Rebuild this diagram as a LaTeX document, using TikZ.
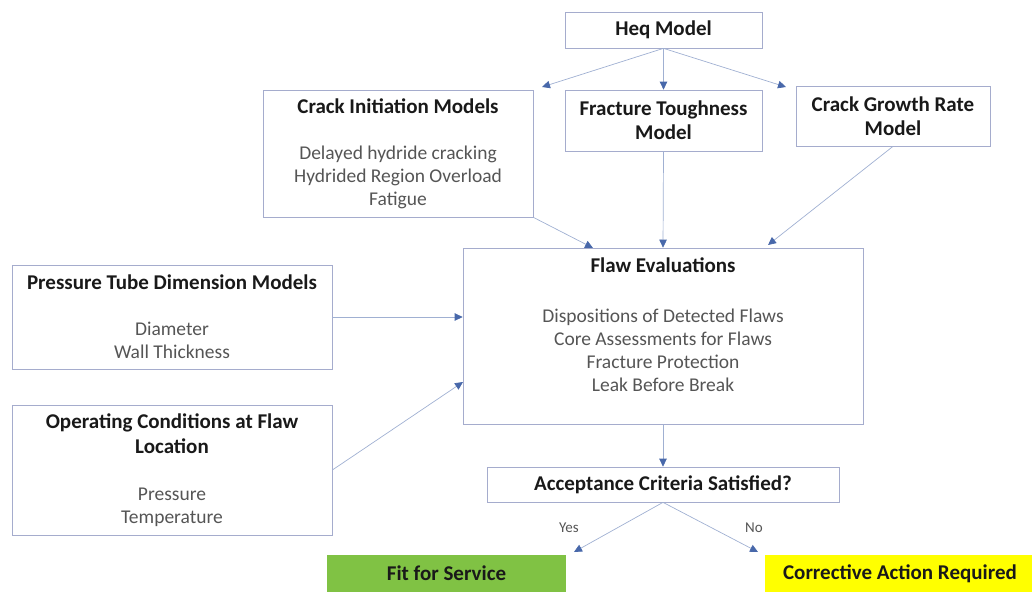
\documentclass[tikz,border=0pt]{standalone}
\usepackage{fontspec}
\setmainfont{Carlito}
\usetikzlibrary{arrows.meta,positioning}

\definecolor{boxline}{RGB}{165,172,205}
\definecolor{arrline}{RGB}{160,176,210}
\definecolor{tipblue}{RGB}{72,104,170}
\definecolor{bodygray}{RGB}{85,85,85}
\definecolor{titleblack}{RGB}{25,25,25}
\definecolor{fitgreen}{RGB}{128,194,68}
\definecolor{actyellow}{RGB}{255,255,0}

\newcommand{\boxtitle}[1]{\textcolor{titleblack}{\fontsize{21}{23}\selectfont\bfseries #1}}

\tikzset{
  box/.style={draw=boxline, line width=0.7pt, fill=white, align=center,
    text=bodygray, inner sep=0pt},
  outcome/.style={inner sep=0pt, align=center, text=titleblack,
    font=\fontsize{21}{23}\selectfont\bfseries},
  flow/.style={draw=arrline, line width=0.7pt,
    -{Triangle[length=8pt,width=7.5pt,color=tipblue]}},
  answer/.style={text=bodygray, font=\fontsize{15}{17}\selectfont}
}

\begin{document}
\begin{tikzpicture}[x=1pt,y=-1pt,font=\fontsize{19.5}{23}\selectfont]
    \useasboundingbox (0,0) rectangle (1032,592);

    % models feeding the evaluation
    \node[box, minimum width=197, minimum height=36] (heq) at (663.5,30) {\boxtitle{Heq Model}};
    \node[box, minimum width=270, minimum height=127] (ci) at (398,153.5)
      {\boxtitle{Crack Initiation Models}\\[23pt]Delayed hydride cracking\\Hydrided Region Overload\\Fatigue};
    \node[box, minimum width=197, minimum height=61] (ft) at (663.5,120.5)
      {\boxtitle{Fracture Toughness}\\[1pt]\boxtitle{Model}};
    \node[box, minimum width=194, minimum height=60] (cg) at (893,116)
      {\boxtitle{Crack Growth Rate}\\[1pt]\boxtitle{Model}};
    \node[box, minimum width=320, minimum height=104] (pt) at (172,317)
      {\boxtitle{Pressure Tube Dimension Models}\\[23pt]Diameter\\Wall Thickness};
    \node[box, minimum width=320, minimum height=130] (oc) at (172,470)
      {\boxtitle{Operating Conditions at Flaw}\\[2pt]\boxtitle{Location}\\[24pt]Pressure\\Temperature};

    % evaluation and decision
    \node[box, minimum width=400, minimum height=176] (flaw) at (663,336)
      {\boxtitle{Flaw Evaluations}\\[27pt]Dispositions of Detected Flaws\\Core Assessments for Flaws\\Fracture Protection\\Leak Before Break\\\mbox{}};
    \node[box, minimum width=352, minimum height=35] (acc) at (663,484.5)
      {\boxtitle{Acceptance Criteria Satisfied?}};
    \node[outcome, fill=fitgreen, minimum width=239, minimum height=37] (fit) at (446.5,573.5) {Fit for Service};
    \node[outcome, fill=actyellow, minimum width=270, minimum height=37] (act) at (900,573.5) {Corrective Action Required};

    \node[answer] (yes) at (569,528) {Yes};
    \node[answer] (no) at (754,528) {No};

    % arrow ends beside the box corners
    \coordinate (ciin) at (542,87);
    \coordinate (cgin) at (786,87);
    \coordinate (flawci) at (593,248);
    \coordinate (flawcg) at (768,245);
    \coordinate (flawoc) at (463,382);
    \coordinate (fitin) at (574,552);
    \coordinate (actin) at (758,552);

    \draw[flow] (heq.south) -- (ciin);
    \draw[flow] (heq.south) -- (ft.north);
    \draw[flow] (heq.south) -- (cgin);
    \draw[flow] (ci.south east) -- (flawci);
    \draw[flow] (ft.south) -- (flaw.north);
    \draw[flow] (cg.south) -- (flawcg);
    \draw[flow] (pt.east) -- (pt.east -| flaw.west);
    \draw[flow] (oc.east) -- (flawoc);
    \draw[flow] (flaw.south) -- (acc.north);
    \draw[flow] (acc.south) -- (fitin);
    \draw[flow] (acc.south) -- (actin);
  \end{tikzpicture}
\end{document}
